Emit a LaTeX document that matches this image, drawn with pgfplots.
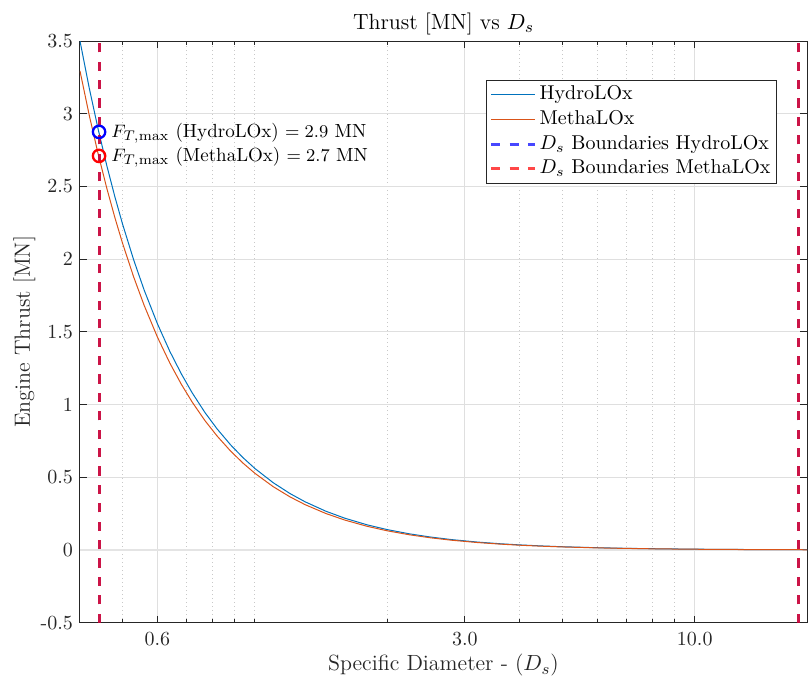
\documentclass[border=0pt]{standalone}
\usepackage{pgfplots}
\pgfplotsset{compat=1.18}
\definecolor{mblue}{RGB}{0,114,189}
\definecolor{morange}{RGB}{217,83,25}
\definecolor{axgray}{RGB}{38,38,38}
\definecolor{gridmaj}{RGB}{223,223,223}
\definecolor{gridmin}{RGB}{200,200,200}
\definecolor{zeroline}{RGB}{228,228,228}

\pgfplotstableread{
x       hydro   metha
0.40    3.5000  3.2938
0.42    3.1746  2.9875
0.44    2.8926  2.7221
0.46    2.6465  2.4905
0.48    2.4306  2.2873
0.50    2.2400  2.1080
0.53    1.9936  1.8761
0.56    1.7857  1.6805
0.60    1.5556  1.4639
0.64    1.3672  1.2866
0.68    1.2111  1.1397
0.72    1.0802  1.0166
0.77    0.9445  0.8889
0.82    0.8328  0.7838
0.88    0.7231  0.6805
0.94    0.6338  0.5964
1.00    0.5600  0.5270
1.10    0.4628  0.4355
1.20    0.3889  0.3660
1.30    0.3314  0.3118
1.45    0.2663  0.2507
1.60    0.2188  0.2059
1.80    0.1728  0.1627
2.00    0.1400  0.1318
2.25    0.1106  0.1041
2.50    0.0896  0.0843
2.80    0.0714  0.0672
3.20    0.0547  0.0515
3.60    0.0432  0.0407
4.00    0.0350  0.0329
4.50    0.0277  0.0260
5.00    0.0224  0.0211
6.00    0.0156  0.0146
7.00    0.0114  0.0108
8.00    0.0088  0.0082
10.0    0.0056  0.0053
12.0    0.0039  0.0037
14.0    0.0029  0.0027
16.0    0.0022  0.0021
18.0    0.0017  0.0016
}\thrustdata

\begin{document}
\begin{tikzpicture}
\begin{axis}[
  at={(0,0)}, anchor=south west,
  scale only axis, width=363.5pt, height=290.85pt,
  xmode=log, xmin=0.4, xmax=18, ymin=-0.5, ymax=3.5,
  xtick={0.6,3,10}, xticklabels={0.6,3.0,10.0},
  minor xtick={0.4,0.5,0.7,0.8,0.9,1,2,4,5,6,7,8,9},
  ytick={-0.5,0,0.5,1,1.5,2,2.5,3,3.5},
  yticklabels={-0.5,0,0.5,1,1.5,2,2.5,3,3.5},
  xtick pos=both, ytick pos=both, tick align=inside,
  major tick length=3.5pt, minor tick length=2pt,
  xmajorgrids, xminorgrids, ymajorgrids,
  major grid style={gridmaj, line width=0.5pt},
  minor grid style={gridmin, line width=0.5pt, dash pattern=on 0.6pt off 1.4pt},
  axis line style={axgray, line width=0.5pt},
  tick style={axgray, line width=0.5pt},
  tick label style={font=\fontsize{10}{12}\selectfont, text=axgray},
  xticklabel style={yshift=-1.2pt},
  every axis title shift=0pt,
  title={Thrust [MN] vs $D_s$},
  title style={at={(axis description cs:0.5,1.0201)}, anchor=base, font=\fontsize{11}{13}\selectfont, text=black},
  xlabel={Specific Diameter - ($D_s$)},
  xlabel style={at={(axis description cs:0.5,-0.0830)}, anchor=base, font=\fontsize{11}{13}\selectfont, text=axgray},
  ylabel={Engine Thrust [MN]},
  ylabel style={at={(axis description cs:-0.0688,0.5)}, anchor=base, font=\fontsize{11}{13}\selectfont, text=axgray},
  legend image code/.code={\draw[#1] (0pt,0pt) -- (22pt,0pt);},
  legend cell align=left,
  legend style={at={(axis description cs:0.9587,0.933)}, anchor=north east,
    draw=axgray, line width=0.5pt, fill=white,
    font=\fontsize{10}{12}\selectfont,
    inner xsep=1.5pt, inner ysep=1.2pt, row sep=0.35pt,
    nodes={inner xsep=1.5pt, inner ysep=1pt, text height=7.5pt, text depth=2.5pt, text=black}},
]
\addplot[forget plot, zeroline, line width=0.9pt] coordinates {(0.4,0) (18,0)};
\addplot[mblue, line width=0.5pt] table[x=x, y=hydro] {\thrustdata};
\addlegendentry{HydroLOx}
\addplot[morange, line width=0.5pt] table[x=x, y=metha] {\thrustdata};
\addlegendentry{MethaLOx}
\addplot[blue, opacity=0.72, line width=1.5pt, dash pattern=on 4.6pt off 4.6pt] coordinates {(0.442,-0.5) (0.442,3.5)};
\addlegendentry{$D_s$ Boundaries HydroLOx}
\addplot[forget plot, blue, opacity=0.72, line width=1.5pt, dash pattern=on 4.6pt off 4.6pt] coordinates {(17.2,-0.5) (17.2,3.5)};
\addplot[red, opacity=0.72, line width=1.5pt, dash pattern=on 4.6pt off 4.6pt] coordinates {(0.442,-0.5) (0.442,3.5)};
\addlegendentry{$D_s$ Boundaries MethaLOx}
\addplot[forget plot, red, opacity=0.72, line width=1.5pt, dash pattern=on 4.6pt off 4.6pt] coordinates {(17.2,-0.5) (17.2,3.5)};
\addplot[forget plot, only marks, mark=o, mark size=3.1pt, color=blue, mark options={line width=1.15pt}] coordinates {(0.442,2.875)};
\addplot[forget plot, only marks, mark=o, mark size=3.1pt, color=red, mark options={line width=1.15pt}] coordinates {(0.442,2.71)};
\node[anchor=base west, inner sep=0pt, font=\fontsize{9.5}{11.5}\selectfont, text=black] at ([xshift=6pt,yshift=-2.6pt]axis cs:0.442,2.875) {$F_{T,\max}$ (HydroLOx) $=2.9$ MN};
\node[anchor=base west, inner sep=0pt, font=\fontsize{9.5}{11.5}\selectfont, text=black] at ([xshift=6pt,yshift=-2.7pt]axis cs:0.442,2.71) {$F_{T,\max}$ (MethaLOx) $=2.7$ MN};
\end{axis}
\pgfresetboundingbox
\path[use as bounding box] (-40pt,-29.65pt) rectangle (364pt,311.35pt);
\end{tikzpicture}
\end{document}
